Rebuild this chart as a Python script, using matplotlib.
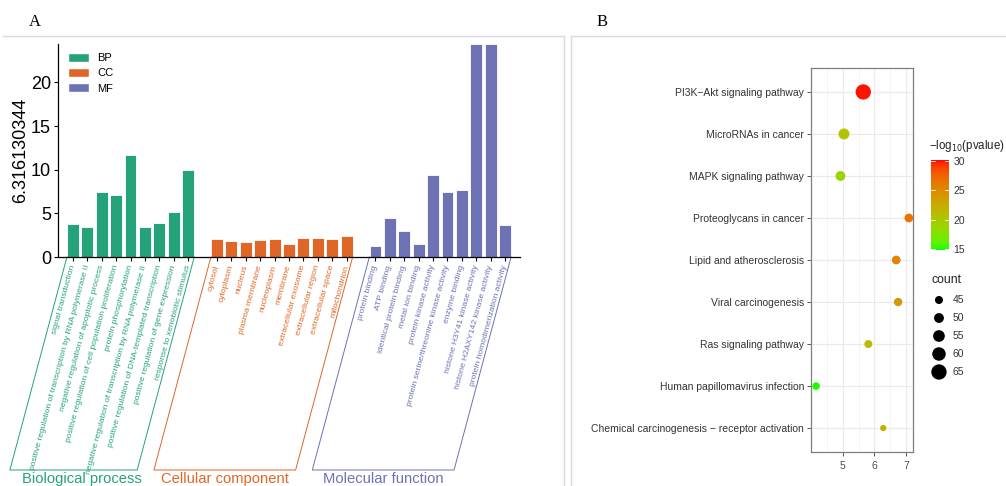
import numpy as np
import matplotlib
matplotlib.use("Agg")
import matplotlib.pyplot as plt
from matplotlib.colors import LinearSegmentedColormap, Normalize
from matplotlib.patches import Patch
from matplotlib.transforms import blended_transform_factory
from matplotlib.lines import Line2D

plt.rcParams['font.family'] = ['Liberation Sans', 'DejaVu Sans']

# ---------------- Panel A data ----------------
bp_terms = ["signal transduction",
            "positive regulation of transcription by RNA polymerase II",
            "negative regulation of apoptotic process",
            "positive regulation of cell population proliferation",
            "protein phosphorylation",
            "negative regulation of transcription by RNA polymerase II",
            "positive regulation of DNA-templated transcription",
            "positive regulation of gene expression",
            "response to xenobiotic stimulus"]
bp_values = [3.75, 3.45, 7.43, 7.09, 11.72, 3.45, 3.87, 5.21, 10.0]

cc_terms = ["cytosol", "cytoplasm", "nucleus", "plasma membrane", "nucleoplasm",
            "membrane", "extracellular exosome", "extracellular region",
            "extracellular space", "mitochondrion"]
cc_values = [2.11, 1.88, 1.76, 1.95, 2.11, 1.46, 2.22, 2.15, 2.11, 2.38]

mf_terms = ["protein binding", "ATP binding", "identical protein binding",
            "metal ion binding", "protein kinase activity",
            "protein serine/threonine kinase activity", "enzyme binding",
            "histone H3Y41 kinase activity", "histone H2AXY142 kinase activity",
            "protein homodimerization activity"]
mf_values = [1.30, 4.44, 2.95, 1.46, 9.39, 7.47, 7.66, 24.4, 24.4, 3.72]

group_keys = ["BP", "CC", "MF"]
group_names = ["Biological process", "Cellular component", "Molecular function"]
group_colors = ["#24A27A", "#DF6626", "#6C72B4"]
y_label_A = "6.316130344"

# ---------------- Panel B data ----------------
pathways = ["PI3K\u2212Akt signaling pathway", "MicroRNAs in cancer",
            "MAPK signaling pathway", "Proteoglycans in cancer",
            "Lipid and atherosclerosis", "Viral carcinogenesis",
            "Ras signaling pathway", "Human papillomavirus infection",
            "Chemical carcinogenesis \u2212 receptor activation"]
enrich_x = [5.65, 5.04, 4.93, 7.09, 6.69, 6.75, 5.81, 4.16, 6.28]
neglog_p = [30.0, 20.5, 19.0, 26.5, 25.5, 24.0, 21.0, 15.0, 22.0]
counts = [65, 53, 50, 47, 47, 46, 45, 44, 40]
legend_counts = [45, 50, 55, 60, 65]

W, H = 1006, 486
fig = plt.figure(figsize=(W / 100, H / 100), dpi=100)


def fx(px):
    return px / W


def fy(py):
    return 1 - py / H


# panel frames
fig.add_artist(Line2D([fx(3), fx(564)], [fy(36), fy(36)], color="#DADADA", lw=1))
fig.add_artist(Line2D([fx(564), fx(564)], [fy(36), 0], color="#DADADA", lw=1))
fig.add_artist(Line2D([fx(571), 1], [fy(36), fy(36)], color="#DADADA", lw=1))
fig.add_artist(Line2D([fx(571), fx(571)], [fy(36), 0], color="#DADADA", lw=1))
fig.text(fx(35), fy(22), "A", family="Liberation Serif", fontsize=12, ha="center", va="center")
fig.text(fx(602), fy(22), "B", family="Liberation Serif", fontsize=12, ha="center", va="center")

# ---------------- Panel A ----------------
axA = fig.add_axes([fx(58), fy(257), fx(520) - fx(58), fy(44) - fy(257)])
groups = [(bp_terms, bp_values), (cc_terms, cc_values), (mf_terms, mf_values)]
positions, labels, lcolors = [], [], []
start = 0
group_ranges = []
for gi, (terms, vals) in enumerate(groups):
    pos = np.arange(start, start + len(terms))
    axA.bar(pos, vals, width=0.82, color=group_colors[gi], edgecolor="white",
            linewidth=0.6, label=group_keys[gi])
    positions.extend(pos)
    labels.extend(terms)
    lcolors.extend([group_colors[gi]] * len(terms))
    group_ranges.append((pos[0], pos[-1]))
    start = pos[-1] + 2

axA.set_xlim(-1.04, positions[-1] + 1.04)
axA.set_ylim(0, 24.4)
axA.set_yticks([0, 5, 10, 15, 20])
axA.tick_params(axis="y", labelsize=13, length=3, width=0.8, pad=2)
axA.set_ylabel(y_label_A, fontsize=13, labelpad=1)
axA.set_xticks(positions)
axA.set_xticklabels(labels, rotation=75, ha="right", va="center",
                    rotation_mode="anchor", fontsize=6.1)
for t, c in zip(axA.get_xticklabels(), lcolors):
    t.set_color(c)
axA.tick_params(axis="x", length=3, width=0.8, pad=3)
for s in ["top", "right"]:
    axA.spines[s].set_visible(False)
axA.spines["left"].set_linewidth(0.9)
axA.spines["bottom"].set_linewidth(0.9)

handles = [Patch(facecolor=c, edgecolor="white") for c in group_colors]
axA.legend(handles, group_keys, loc="upper left", bbox_to_anchor=(0.008, 0.99),
           frameon=False, fontsize=8, handlelength=1.9, handleheight=0.85,
           labelspacing=0.45, handletextpad=0.7, borderaxespad=0.2)

trans = blended_transform_factory(axA.transData, axA.transAxes)
slant = 3.96
ybot = -1.0
label_shift = [0.6, 0.0, 0.0]
for gi, (a, b) in enumerate(group_ranges):
    xl, xr = a - 0.42, b + 0.42
    xs = [xl, xl - slant, xr - slant, xr]
    ys = [0, ybot, ybot, 0]
    axA.add_line(Line2D(xs, ys, transform=trans, color=group_colors[gi],
                        lw=0.7, clip_on=False))
    axA.text((xl + xr) / 2 - slant + label_shift[gi], ybot - 0.04, group_names[gi],
             transform=trans, color=group_colors[gi], fontsize=10.6,
             ha="center", va="center")

# ---------------- Panel B ----------------
def srgb_to_lab(rgb):
    c = np.asarray(rgb, float)
    lin = np.where(c <= 0.04045, c / 12.92, ((c + 0.055) / 1.055) ** 2.4)
    M = np.array([[0.4124, 0.3576, 0.1805], [0.2126, 0.7152, 0.0722], [0.0193, 0.1192, 0.9505]])
    xyz = M @ lin / np.array([0.95047, 1.0, 1.08883])
    f = np.where(xyz > 0.008856, np.cbrt(xyz), 7.787 * xyz + 16 / 116)
    return np.array([116 * f[1] - 16, 500 * (f[0] - f[1]), 200 * (f[1] - f[2])])


def lab_to_srgb(lab):
    L, a, b = lab
    fyv = (L + 16) / 116
    fxv = fyv + a / 500
    fzv = fyv - b / 200
    f = np.array([fxv, fyv, fzv])
    xyz = np.where(f ** 3 > 0.008856, f ** 3, (f - 16 / 116) / 7.787) * np.array([0.95047, 1.0, 1.08883])
    Mi = np.array([[3.2406, -1.5372, -0.4986], [-0.9689, 1.8758, 0.0415], [0.0557, -0.2040, 1.0570]])
    lin = np.clip(Mi @ xyz, 0, 1)
    c = np.where(lin <= 0.0031308, 12.92 * lin, 1.055 * lin ** (1 / 2.4) - 0.055)
    return np.clip(c, 0, 1)


lab_lo = srgb_to_lab([0, 1, 0])
lab_hi = srgb_to_lab([1, 0, 0])
stops = [lab_to_srgb(lab_lo + t * (lab_hi - lab_lo)) for t in np.linspace(0, 1, 64)]
cmap = LinearSegmentedColormap.from_list("gr", stops)
norm = Normalize(vmin=14.8, vmax=30.2)


def size_of(c):
    d_px = -8.4 + 0.365 * np.asarray(c, float)
    return (d_px * 0.72) ** 2


axB = fig.add_axes([fx(811), fy(452), fx(913) - fx(811), fy(68) - fy(452)])
ypos = np.arange(len(pathways))[::-1]
axB.scatter(enrich_x, ypos, s=size_of(counts), c=neglog_p, cmap=cmap, norm=norm,
            edgecolors="none", zorder=3)
axB.set_xlim(4.0, 7.22)
axB.set_ylim(-0.57, len(pathways) - 1 + 0.57)
axB.set_yticks(ypos)
axB.set_yticklabels(pathways, fontsize=7.5, color="#333333")
axB.set_xticks([5, 6, 7])
axB.set_xticks([4.5, 5.5, 6.5], minor=True)
axB.tick_params(axis="x", labelsize=7.5, labelcolor="#4D4D4D", length=3, color="#555555", width=0.7)
axB.tick_params(axis="x", which="minor", length=0)
axB.tick_params(axis="y", length=3, color="#555555", width=0.7, pad=2)
axB.grid(True, which="major", color="#EBEBEB", lw=0.9, zorder=0)
axB.grid(True, which="minor", axis="x", color="#F2F2F2", lw=0.6, zorder=0)
axB.set_axisbelow(True)
for s in axB.spines.values():
    s.set_color("#7F7F7F")
    s.set_linewidth(0.9)

# colorbar
cax = fig.add_axes([fx(931), fy(250), fx(949) - fx(931), fy(160) - fy(250)])
grad = np.linspace(14.8, 30.2, 256).reshape(-1, 1)
cax.imshow(grad, aspect="auto", origin="lower", cmap=cmap, norm=norm,
           extent=[0, 1, 14.8, 30.2])
cax.set_xlim(0, 1)
cax.set_ylim(14.8, 30.2)
cax.set_xticks([])
cax.yaxis.tick_right()
cax.set_yticks([15, 20, 25, 30])
cax.tick_params(axis="y", length=0, labelsize=7.5, labelcolor="#333333", pad=3)
for v in [15, 20, 25, 30]:
    cax.plot([0, 0.2], [v, v], color="white", lw=0.6)
    cax.plot([0.8, 1], [v, v], color="white", lw=0.6)
for s in cax.spines.values():
    s.set_visible(False)
fig.text(fx(929), fy(146), "\u2212log$_{10}$(pvalue)", fontsize=8.3, color="#222222",
         ha="left", va="center")

# size legend
fig.text(fx(931), fy(280), "count", fontsize=8.8, color="#222222", ha="left", va="center")
lax = fig.add_axes([fx(925), fy(381), fx(990) - fx(925), fy(291) - fy(381)])
lax.set_xlim(0, 1)
lax.set_ylim(0, 1)
lax.axis("off")
ly = np.linspace(0.9, 0.1, len(legend_counts))
lax.scatter([0.215] * len(legend_counts), ly, s=size_of(legend_counts), c="black",
            edgecolors="none", clip_on=False)
for yy, cnt in zip(ly, legend_counts):
    lax.text(0.43, yy, str(cnt), fontsize=7.5, color="#333333", va="center", ha="left")

fig.savefig("out.png", dpi=100)
